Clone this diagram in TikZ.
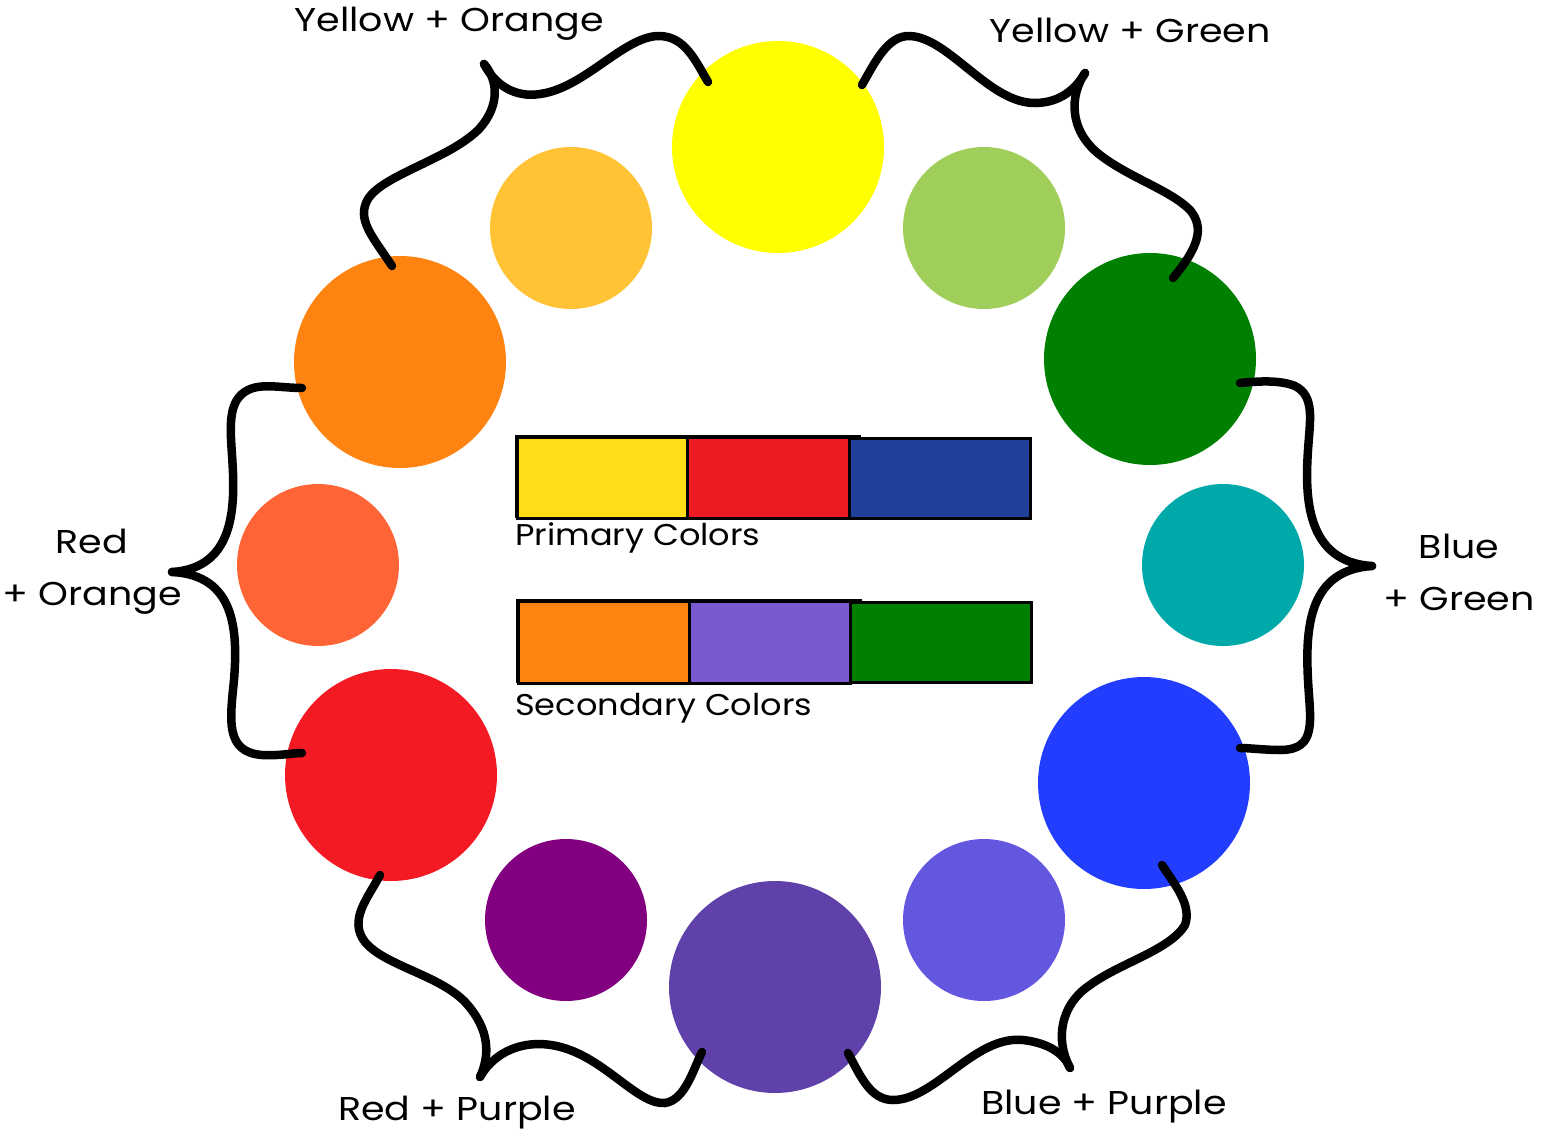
\documentclass[tikz,border=0pt]{standalone}
\usepackage{fontspec}
\setmainfont{Poppins}
\newfontfamily\widefont[FakeStretch=1.15]{Poppins}
\newfontfamily\swfont[FakeStretch=1.12]{Poppins}
\definecolor{cYellow}{HTML}{FFFF00}
\definecolor{cLtOrange}{HTML}{FFC335}
\definecolor{cYGreen}{HTML}{9FCE5A}
\definecolor{cOrange}{HTML}{FF8311}
\definecolor{cGreen}{HTML}{008000}
\definecolor{cRedOrange}{HTML}{FF6436}
\definecolor{cTeal}{HTML}{00A9A9}
\definecolor{cRed}{HTML}{F41A24}
\definecolor{cBlue}{HTML}{233DFF}
\definecolor{cPurple}{HTML}{820080}
\definecolor{cViolet}{HTML}{5F41A9}
\definecolor{cBViolet}{HTML}{6357E0}
\definecolor{pYellow}{HTML}{FFDD17}
\definecolor{pRed}{HTML}{ED1C24}
\definecolor{pBlue}{HTML}{21409A}
\definecolor{sPurple}{HTML}{7B59D1}
\begin{document}
\begin{tikzpicture}[x=1pt,y=-1pt,
  big/.style={circle,inner sep=0pt,minimum size=212pt,draw=none},
  small/.style={circle,inner sep=0pt,minimum size=162pt,draw=none},
  brace/.style={line width=8.5pt,line cap=round,line join=round},
  lbl/.style={font=\widefont\fontsize{33}{40}\selectfont,inner sep=0pt,align=center},
  swlbl/.style={font=\swfont\fontsize{30}{36}\selectfont,inner sep=0pt},
  swatch/.style={draw=black,line width=2.5pt},
]
\useasboundingbox (0,0) rectangle (1549,1135);
% circles
\node[big,fill=cYellow] (yellow) at (778,147) {};
\node[small,fill=cLtOrange] (ltorange) at (571,228) {};
\node[small,fill=cYGreen] (ygreen) at (984,228) {};
\node[big,fill=cOrange] (orange) at (400,362) {};
\node[big,fill=cGreen] (green) at (1150,359) {};
\node[small,fill=cRedOrange] (redorange) at (318,565) {};
\node[small,fill=cTeal] (teal) at (1223,565) {};
\node[big,fill=cRed] (red) at (391,775) {};
\node[big,fill=cBlue] (blue) at (1144,783) {};
\node[small,fill=cPurple] (purple) at (566,920) {};
\node[big,fill=cViolet] (violet) at (775,987) {};
\node[small,fill=cBViolet] (bviolet) at (984,920) {};
% brace end points and tips
\coordinate (tlA) at (392,266); \coordinate (tlT) at (484,64); \coordinate (tlB) at (708,82);
\coordinate (trA) at (862,85); \coordinate (trT) at (1085,73); \coordinate (trB) at (1173,278);
\coordinate (rA) at (1240,383); \coordinate (rT) at (1372,566); \coordinate (rB) at (1240,748);
\coordinate (lA) at (302,388); \coordinate (lT) at (172,572); \coordinate (lB) at (302,753);
\coordinate (blA) at (380,875); \coordinate (blT) at (480,1077); \coordinate (blB) at (702,1052);
\coordinate (brA) at (848,1053); \coordinate (brT) at (1070,1068); \coordinate (brB) at (1162,865);
% braces
\draw[brace] (tlA) .. controls (375,240) and (358,222) .. (366,203)
  .. controls (376,176) and (450,160) .. (480,128)
  .. controls (500,105) and (498,80) .. (tlT);
\draw[brace] (tlT) .. controls (495,85) and (515,98) .. (540,94)
  .. controls (585,88) and (625,35) .. (660,36)
  .. controls (685,37) and (695,60) .. (tlB);
\draw[brace] (trA) .. controls (875,62) and (888,35) .. (910,36)
  .. controls (950,38) and (990,105) .. (1037,103)
  .. controls (1060,102) and (1075,90) .. (trT);
\draw[brace] (trT) .. controls (1070,95) and (1068,130) .. (1100,155)
  .. controls (1130,178) and (1170,190) .. (1190,210)
  .. controls (1205,228) and (1198,248) .. (trB);
\draw[brace] (rA) .. controls (1260,381) and (1280,380) .. (1295,386)
  .. controls (1315,396) and (1310,420) .. (1308,450)
  .. controls (1305,495) and (1305,562) .. (rT);
\draw[brace] (rT) .. controls (1310,570) and (1305,625) .. (1308,680)
  .. controls (1310,720) and (1318,750) .. (1280,750)
  .. controls (1265,750) and (1250,748) .. (rB);
\draw[brace] (lA) .. controls (282,388) and (262,383) .. (248,390)
  .. controls (228,400) and (230,425) .. (232,455)
  .. controls (235,500) and (238,568) .. (lT);
\draw[brace] (lT) .. controls (235,575) and (238,630) .. (234,680)
  .. controls (230,720) and (225,752) .. (262,755)
  .. controls (280,756) and (292,753) .. (lB);
\draw[brace] (blA) .. controls (368,898) and (348,920) .. (365,942)
  .. controls (385,966) and (440,975) .. (466,1003)
  .. controls (490,1030) and (490,1055) .. (blT);
\draw[brace] (blT) .. controls (495,1050) and (530,1035) .. (570,1050)
  .. controls (610,1065) and (640,1105) .. (665,1103)
  .. controls (685,1100) and (693,1070) .. (blB);
\draw[brace] (brA) .. controls (860,1075) and (870,1100) .. (893,1100)
  .. controls (935,1100) and (975,1035) .. (1023,1040)
  .. controls (1050,1043) and (1065,1055) .. (brT);
\draw[brace] (brT) .. controls (1055,1040) and (1060,1005) .. (1090,985)
  .. controls (1120,963) and (1170,950) .. (1185,925)
  .. controls (1192,905) and (1175,885) .. (brB);
% labels
\node[lbl] (lYO) at (449,24) {Yellow + Orange};
\node[lbl] (lYG) at (1130,30) {Yellow + Green};
\node[lbl] (lRO) at (92,572) {Red\\[12pt]+ Orange};
\node[lbl] (lBG) at (1459,572) {Blue\\[12pt]+ Green};
\node[lbl] (lRP) at (457,1113) {Red + Purple};
\node[lbl] (lBP) at (1104,1107) {Blue + Purple};
% primary swatches
\draw[swatch] (516,436) rectangle (860,517);
\node[swatch,fill=pYellow,minimum width=170pt,minimum height=81pt,inner sep=0pt,anchor=north west] (pY) at (516,436) {};
\node[swatch,fill=pRed,minimum width=162pt,minimum height=81pt,inner sep=0pt,anchor=north west] (pR) at (686,436) {};
\node[swatch,fill=pBlue,minimum width=181pt,minimum height=80pt,inner sep=0pt,anchor=north west] (pB) at (848,437) {};
\node[swlbl,anchor=west] (pLbl) at (515,538) {Primary Colors};
% secondary swatches
\draw[swatch] (517,600) rectangle (861,682);
\node[swatch,fill=cOrange,minimum width=171pt,minimum height=82pt,inner sep=0pt,anchor=north west] (sO) at (517,600) {};
\node[swatch,fill=sPurple,minimum width=161pt,minimum height=82pt,inner sep=0pt,anchor=north west] (sP) at (688,600) {};
\node[swatch,fill=cGreen,minimum width=181pt,minimum height=80pt,inner sep=0pt,anchor=north west] (sG) at (849,601) {};
\node[swlbl,anchor=west] (sLbl) at (515,708) {Secondary Colors};
\end{tikzpicture}
\end{document}
